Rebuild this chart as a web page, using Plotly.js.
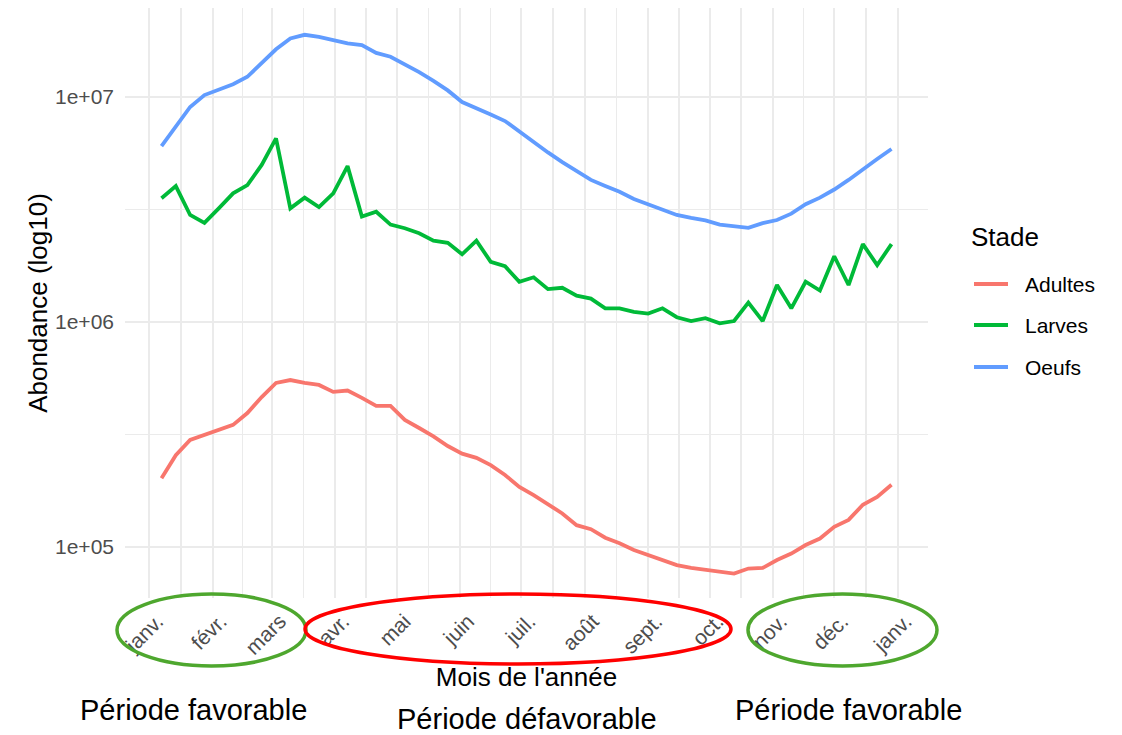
<!DOCTYPE html>
<html>
<head>
<meta charset="utf-8">
<script src="https://cdn.plot.ly/plotly-3.0.1.min.js"></script>
<style>
  html, body { margin: 0; padding: 0; background: #ffffff; }
  #chart { width: 1122px; height: 735px; }
</style>
</head>
<body>
<div id="chart"></div>
<script>
// ---------- data ----------
const dates = [
  "2024-01-07","2024-01-14","2024-01-21","2024-01-28",
  "2024-02-04","2024-02-11","2024-02-18","2024-02-25",
  "2024-03-03","2024-03-10","2024-03-17","2024-03-24","2024-03-31",
  "2024-04-07","2024-04-14","2024-04-21","2024-04-28",
  "2024-05-05","2024-05-12","2024-05-19","2024-05-26",
  "2024-06-02","2024-06-09","2024-06-16","2024-06-23","2024-06-30",
  "2024-07-07","2024-07-14","2024-07-21","2024-07-28",
  "2024-08-04","2024-08-11","2024-08-18","2024-08-25",
  "2024-09-01","2024-09-08","2024-09-15","2024-09-22","2024-09-29",
  "2024-10-06","2024-10-13","2024-10-20","2024-10-27",
  "2024-11-03","2024-11-10","2024-11-17","2024-11-24",
  "2024-12-01","2024-12-08","2024-12-15","2024-12-22","2024-12-29"
];

const adultes = [
  202000, 256000, 299000, 315000, 331000, 349000, 394000, 464000,
  536000, 552000, 536000, 525000, 489000, 496000, 460000, 424000,
  424000, 367000, 338000, 310000, 281000, 260000, 249000, 231000,
  209000, 185000, 170000, 155000, 141000, 125000, 120000, 110000,
  104000, 97000, 92100, 87500, 83100, 80700, 79400, 77800,
  76200, 80200, 80700, 87500, 93500, 102000, 109000, 123000,
  132000, 154000, 167000, 189000
];

const larves = [
  3550000, 4020000, 2990000, 2760000, 3200000, 3730000, 4060000, 4990000,
  6550000, 3200000, 3570000, 3240000, 3730000, 4930000, 2940000, 3090000,
  2710000, 2610000, 2480000, 2300000, 2250000, 2000000, 2300000, 1850000,
  1770000, 1510000, 1580000, 1400000, 1420000, 1310000, 1270000, 1150000,
  1150000, 1110000, 1090000, 1150000, 1050000, 1010000, 1040000, 986000,
  1010000, 1220000, 1010000, 1460000, 1150000, 1510000, 1380000, 1960000,
  1460000, 2220000, 1790000, 2220000
];

const oeufs = [
  6050000, 7380000, 9030000, 10200000, 10800000, 11400000, 12300000, 14100000,
  16300000, 18200000, 18900000, 18500000, 17800000, 17300000, 17000000, 15700000,
  15100000, 14000000, 12900000, 11800000, 10700000, 9500000, 8870000, 8360000,
  7820000, 7030000, 6280000, 5670000, 5140000, 4670000, 4280000, 4020000,
  3790000, 3520000, 3330000, 3150000, 2990000, 2900000, 2830000, 2710000,
  2660000, 2620000, 2750000, 2840000, 3030000, 3340000, 3570000, 3880000,
  4280000, 4790000, 5300000, 5870000
];

const seriesNames = ["Adultes", "Larves", "Oeufs"];
const seriesColors = ["#F8766D", "#00BA38", "#619CFF"];

const monthTickVals = [
  "2024-01-01","2024-02-01","2024-03-01","2024-04-01","2024-05-01","2024-06-01",
  "2024-07-01","2024-08-01","2024-09-01","2024-10-01","2024-11-01","2024-12-01","2025-01-01"
];
const monthTickText = [
  "janv.","févr.","mars","avr.","mai","juin","juil.","août","sept.","oct.","nov.","déc.","janv."
];
const monthMinorVals = [
  "2024-01-16 12:00","2024-02-15 12:00","2024-03-16 12:00","2024-04-16","2024-05-16 12:00",
  "2024-06-16","2024-07-16 12:00","2024-08-16 12:00","2024-09-16","2024-10-16 12:00",
  "2024-11-16","2024-12-16 12:00","2025-01-16 12:00"
];
const yTickVals = [1e5, 1e6, 1e7];
const yTickText = ["1e+05", "1e+06", "1e+07"];
const yMinorVals = [316228, 3162278];

const periodLabels = ["Période favorable", "Période défavorable", "Période favorable"];

// ---------- layout helpers (pixel -> paper) ----------
const W = 1122, H = 735;
const M = { l: 125, r: 1122 - 928, t: 8, b: 735 - 598 };
const px = x => (x - M.l) / (W - M.l - M.r);
const py = y => (H - M.b - y) / (H - M.t - M.b);

const FONT = "Liberation Sans, Arial, Helvetica, sans-serif";
const GRID = "#EBEBEB";

const seriesValues = [adultes, larves, oeufs];
const traces = seriesNames.map((name, i) => ({
  type: "scatter",
  mode: "lines",
  name: name,
  x: dates,
  y: seriesValues[i],
  line: { color: seriesColors[i], width: 3.8 },
  showlegend: false,
  hoverinfo: "x+y+name"
}));

const shapes = [];
const annotations = [];

// legend (ggplot-style)
annotations.push({
  xref: "paper", yref: "paper", x: px(969), y: py(237),
  xanchor: "left", yanchor: "middle", showarrow: false,
  text: "Stade", font: { family: FONT, size: 26, color: "#000000" }
});
const legendY = [284, 325, 367];
seriesNames.forEach((name, i) => {
  shapes.push({
    type: "line", xref: "paper", yref: "paper",
    x0: px(974), x1: px(1008), y0: py(legendY[i]), y1: py(legendY[i]),
    line: { color: seriesColors[i], width: 3.8 }
  });
  annotations.push({
    xref: "paper", yref: "paper", x: px(1023), y: py(legendY[i]),
    xanchor: "left", yanchor: "middle", showarrow: false,
    text: name, font: { family: FONT, size: 21, color: "#000000" }
  });
});

// ellipses around month groups
const ellipses = [
  { x0: 117, x1: 306, y0: 594, y1: 666, color: "#4EA72E" },
  { x0: 305, x1: 731, y0: 594, y1: 664, color: "#FF0000" },
  { x0: 748, x1: 937, y0: 594, y1: 666, color: "#4EA72E" }
];
ellipses.forEach(e => {
  shapes.push({
    type: "circle", xref: "paper", yref: "paper", layer: "above",
    x0: px(e.x0), x1: px(e.x1), y0: py(e.y1), y1: py(e.y0),
    line: { color: e.color, width: 3.5 }, fillcolor: "rgba(0,0,0,0)"
  });
});

// period labels
const periodPos = [[193, 710], [527, 719], [848, 710]];
periodLabels.forEach((t, i) => {
  annotations.push({
    xref: "paper", yref: "paper", x: px(periodPos[i][0]), y: py(periodPos[i][1]),
    xanchor: "center", yanchor: "middle", showarrow: false,
    text: t, font: { family: FONT, size: 29, color: "#000000" }
  });
});

const layout = {
  width: W, height: H,
  margin: M,
  paper_bgcolor: "#ffffff",
  plot_bgcolor: "#ffffff",
  font: { family: FONT, color: "#000000" },
  showlegend: false,
  xaxis: {
    type: "date",
    range: ["2023-12-20 03:36", "2025-01-15 20:24"],
    tickmode: "array",
    tickvals: monthTickVals,
    ticktext: monthTickText,
    tickangle: -45,
    tickfont: { family: FONT, size: 21, color: "#4D4D4D" },
    ticks: "",
    ticklabelshift: 8,
    ticklabelstandoff: 6,
    showgrid: true, gridcolor: GRID, gridwidth: 2,
    minor: { tickmode: "array", tickvals: monthMinorVals, showgrid: true, gridcolor: GRID, gridwidth: 1.5, ticks: "" },
    zeroline: false, showline: false,
    title: { text: "Mois de l'année", font: { family: FONT, size: 26, color: "#000000" } },
    automargin: false,
    fixedrange: true
  },
  yaxis: {
    type: "log",
    range: [4.7733, 7.3956],
    tickmode: "array",
    tickvals: yTickVals,
    ticktext: yTickText,
    tickfont: { family: FONT, size: 21, color: "#4D4D4D" },
    ticks: "",
    ticklabelstandoff: 10,
    showgrid: true, gridcolor: GRID, gridwidth: 2,
    minor: { tickmode: "array", tickvals: yMinorVals, showgrid: true, gridcolor: GRID, gridwidth: 1.5, ticks: "" },
    zeroline: false, showline: false,
    title: { text: "Abondance (log10)", font: { family: FONT, size: 26, color: "#000000" } },
    automargin: false,
    fixedrange: true
  },
  shapes: shapes,
  annotations: annotations
};

Plotly.newPlot("chart", traces, layout, { displayModeBar: false, staticPlot: true });
</script>
</body>
</html>
